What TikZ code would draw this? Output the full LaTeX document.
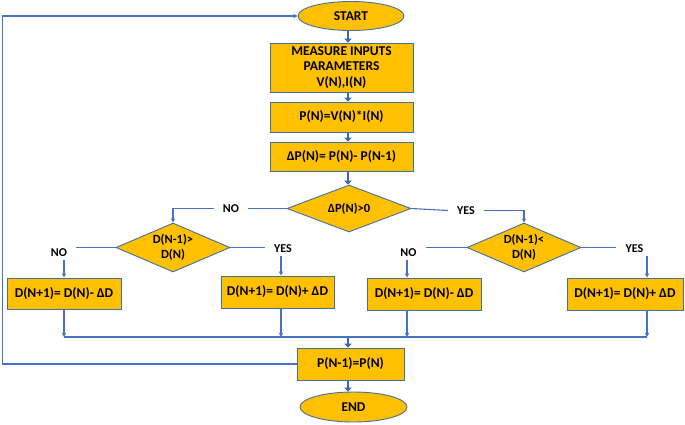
\documentclass[tikz,border=0pt]{standalone}
\usepackage{fontspec}
\setmainfont{Carlito}
\usetikzlibrary{shapes.geometric,arrows.meta}
\definecolor{gold}{HTML}{FFC000}
\definecolor{edgeblue}{HTML}{41719C}
\definecolor{flow}{HTML}{4472C4}
\definecolor{thickflow}{HTML}{3A66B5}
\tikzset{
  boxtext/.style={font=\fontsize{13.5}{15.5}\selectfont\bfseries},
  stepbox/.style={rectangle,draw=edgeblue,fill=gold,line width=0.9pt,inner sep=0pt,
    minimum width=#1,align=center,boxtext},
  term/.style={ellipse,draw=edgeblue,fill=gold,line width=0.9pt,inner sep=0pt,boxtext},
  decide/.style={diamond,draw=edgeblue,fill=gold,line width=0.9pt,inner sep=0pt,
    align=center,font=\fontsize{12.5}{15}\selectfont\bfseries},
  lab/.style={inner xsep=9pt,inner ysep=3pt,font=\fontsize{12}{14}\selectfont\bfseries},
  thin/.style={draw=flow,line width=1.1pt},
  thinarrow/.style={thin,-{Triangle[length=4pt,width=4pt]}},
  thickarrow/.style={draw=thickflow,line width=2.8pt,-{Triangle[length=4pt,width=7.5pt]}}
}
\begin{document}
\begin{tikzpicture}[x=1pt,y=-1pt]
\useasboundingbox (0,0) rectangle (685,424);
% columns and rows
\coordinate (ax) at (348,0);
\coordinate (lx) at (2.5,0);
\coordinate (k1) at (64,0);
\coordinate (k2) at (281,0);
\coordinate (k3) at (407,0);
\coordinate (k4) at (647,0);
\coordinate (bus) at (0,337);
% nodes
\node[term,minimum width=106pt,minimum height=29pt] (start) at (351,16) {START};
\node[stepbox=143pt,minimum height=49pt] (meas) at (341.5,67.5) {MEASURE INPUTS\\PARAMETERS\\V(N),I(N)};
\node[stepbox=143pt,minimum height=30pt] (pn) at (341.5,117) {P(N)=V(N)*I(N)};
\node[stepbox=143pt,minimum height=29pt] (dp) at (341.5,156.5) {ΔP(N)= P(N)- P(N-1)};
\node[decide,minimum width=124pt,minimum height=47pt,aspect=2.6] (d0) at (349,208.5) {ΔP(N)>0};
\node[decide,minimum width=114pt,minimum height=49pt,aspect=2.3] (d1) at (173,247.5) {D(N-1)>\\D(N)};
\node[decide,minimum width=114pt,minimum height=49pt,aspect=2.3] (d2) at (524,247.5) {D(N-1)<\\D(N)};
\node[stepbox=114pt,minimum height=31pt] (b1) at (64,293.5) {D(N+1)= D(N)- ΔD};
\node[stepbox=113pt,minimum height=32pt] (b2) at (277.5,292) {D(N+1)= D(N)+ ΔD};
\node[stepbox=114pt,minimum height=32pt] (b3) at (424,294) {D(N+1)= D(N)- ΔD};
\node[stepbox=116pt,minimum height=32pt] (b4) at (625,294) {D(N+1)= D(N)+ ΔD};
\node[stepbox=107pt,minimum height=32pt] (p1) at (350.5,364) {P(N-1)=P(N)};
\node[term,minimum width=107pt,minimum height=30pt] (end) at (353.5,407) {END};
% labels
\node[lab] (no0) at (231,208.5) {NO};
\node[lab] (yes0) at (466,210.5) {YES};
\node[lab] (no1) at (59,253) {NO};
\node[lab] (yes1) at (283,249) {YES};
\node[lab] (no2) at (408.5,253) {NO};
\node[lab] (yes2) at (634.5,249) {YES};
% thick arrows
\draw[thickarrow] (ax |- start.south) -- (ax |- meas.north);
\draw[thickarrow] (ax |- meas.south) -- (ax |- pn.north);
\draw[thickarrow] (ax |- pn.south) -- (ax |- dp.north);
\draw[thickarrow] (ax |- dp.south) -- (ax |- d0.north);
\draw[thickarrow] (ax |- bus) -- (ax |- p1.north);
\draw[thickarrow] (ax |- p1.south) -- (ax |- end.north);
% main decision
\draw[thin] (d0.west) -- (no0.east);
\draw[thinarrow] (no0.west) -| (d1.north);
\draw[thin] (d0.east) -- (yes0.west);
\draw[thinarrow] (yes0.east) -| (d2.north);
% left decision
\draw[thin] (d1.west) -- (d1.west -| no1.east);
\draw[thinarrow] (k1 |- no1.south) -- (k1 |- b1.north);
\draw[thin] (d1.east) -- (d1.east -| yes1.west);
\draw[thinarrow] (k2 |- yes1.south) -- (k2 |- b2.north);
% right decision
\draw[thin] (d2.west) -- (d2.west -| no2.east);
\draw[thinarrow] (k3 |- no2.south) -- (k3 |- b3.north);
\draw[thin] (d2.east) -- (d2.east -| yes2.west);
\draw[thinarrow] (k4 |- yes2.south) -- (k4 |- b4.north);
% to bus
\draw[thinarrow] (k1 |- b1.south) -- (k1 |- bus);
\draw[thinarrow] (k2 |- b2.south) -- (k2 |- bus);
\draw[thinarrow] (k3 |- b3.south) -- (k3 |- bus);
\draw[thinarrow] (k4 |- b4.south) -- (k4 |- bus);
\draw[thin] (k1 |- bus) -- (k4 |- bus);
% loop back
\draw[thinarrow] (p1.west) -- (lx |- p1.west) |- (start.west);
\end{tikzpicture}
\end{document}
